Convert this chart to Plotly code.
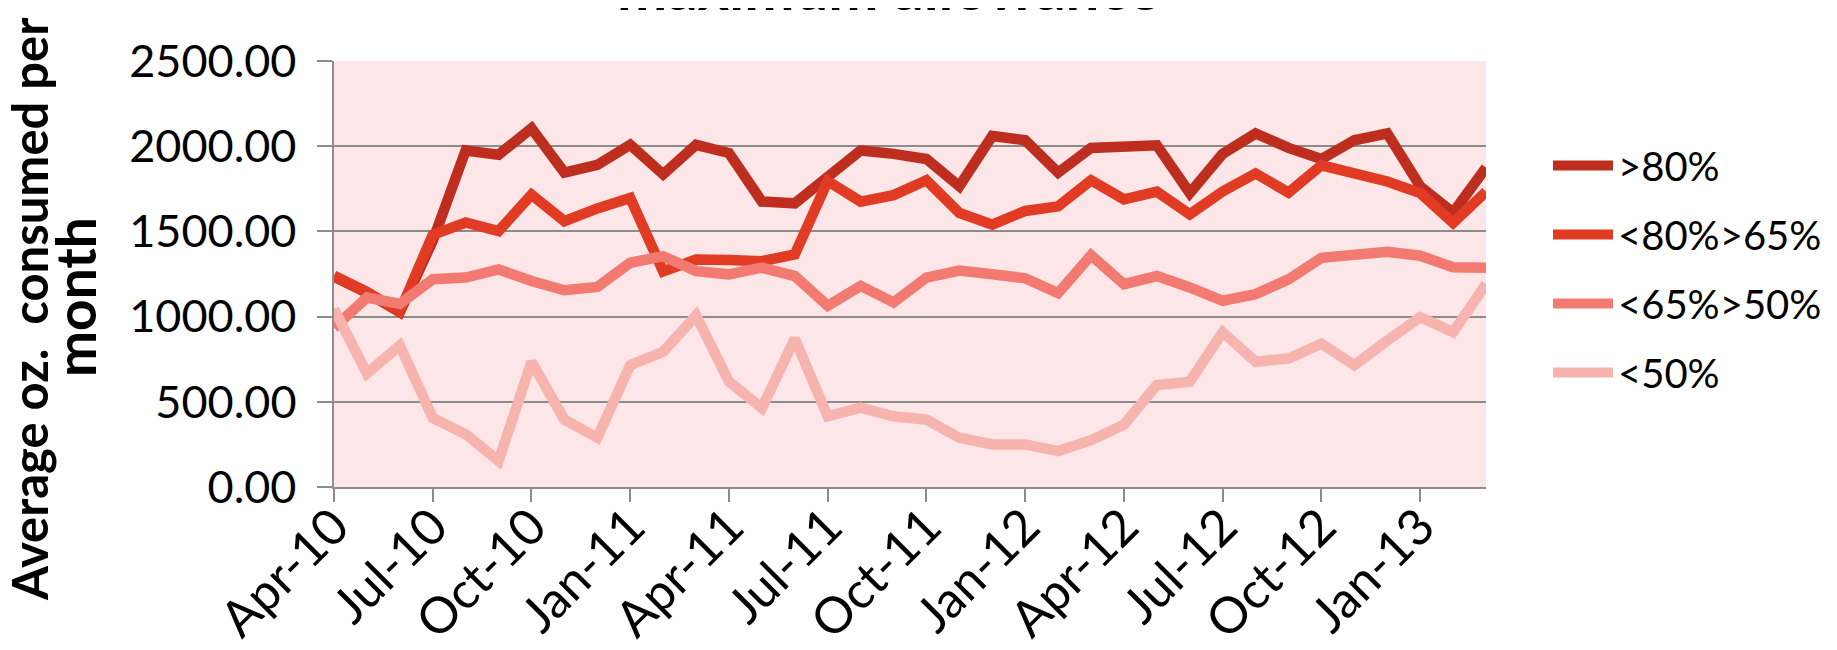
import plotly.graph_objects as go

months = ["Apr-10","May-10","Jun-10","Jul-10","Aug-10","Sep-10","Oct-10","Nov-10","Dec-10",
          "Jan-11","Feb-11","Mar-11","Apr-11","May-11","Jun-11","Jul-11","Aug-11","Sep-11",
          "Oct-11","Nov-11","Dec-11","Jan-12","Feb-12","Mar-12","Apr-12","May-12","Jun-12",
          "Jul-12","Aug-12","Sep-12","Oct-12","Nov-12","Dec-12","Jan-13","Feb-13","Mar-13"]
tick_labels = months[::3]

over80 = [1235, 1140, 1025, 1445, 1975, 1950, 2105, 1845, 1890, 2008, 1835, 2008,
          1960, 1675, 1665, 1830, 1975, 1955, 1925, 1765, 2060, 2035, 1845, 1990,
          2005, 2005, 1725, 1955, 2075, 1990, 1925, 2035, 2075, 1765, 1610, 1875]
b80_65 = [1240, 1145, 1030, 1480, 1552, 1502, 1715, 1560, 1635, 1696, 1265, 1335,
          1332, 1325, 1365, 1795, 1675, 1713, 1800, 1608, 1540, 1620, 1647, 1800,
          1688, 1733, 1600, 1735, 1840, 1728, 1888, 1842, 1793, 1725, 1550, 1733]
b65_50 = [935, 1112, 1074, 1219, 1229, 1277, 1209, 1155, 1174, 1316, 1355, 1267,
          1248, 1287, 1238, 1064, 1180, 1083, 1229, 1270, 1248, 1225, 1138, 1360,
          1190, 1238, 1171, 1093, 1132, 1219, 1345, 1364, 1380, 1357, 1290, 1287]
under50 = [1045, 667, 831, 405, 310, 153, 734, 395, 289, 715, 793, 1006,
           618, 463, 870, 415, 465, 415, 395, 289, 250, 250, 211, 275,
           366, 599, 618, 909, 735, 754, 841, 715, 860, 996, 909, 1190]

series = [(">80%", over80, "#BE2E1E"),
          ("<80%>65%", b80_65, "#E23B24"),
          ("<65%>50%", b65_50, "#F37A70"),
          ("<50%", under50, "#F7B4AF")]

title_line1 = "Average oz.  consumed per"
title_line2 = "month"
chart_title = "maximum allowance"

fig = go.Figure()
for i, (name, vals, col) in enumerate(series):
    fig.add_trace(go.Scatter(x=months, y=vals, name=name, mode="lines",
                             line=dict(color=col, width=10.5), legendgroup=str(i)))

grid = "#8C8C8C"
OFF = 8                      # page body margin
L, T, W, H = 334, 61, 1152, 426   # plot area in page pixels


def px(x):
    return (x - L) / W


def py(y):
    return (T + H - y) / H


fig.update_layout(
    width=1837, height=650,
    margin=dict(l=L - OFF, r=1837 - (L - OFF) - W, t=T - OFF, b=650 - (T - OFF) - H,
                autoexpand=False),
    paper_bgcolor="white", plot_bgcolor="#FCE6E7",
    font=dict(family="Lato", color="black"),
    showlegend=True,
    legend=dict(x=px(1548), y=py(133), xanchor="left", yanchor="top",
                font=dict(family="Lato", size=40), itemwidth=60,
                tracegroupgap=14, bgcolor="rgba(0,0,0,0)"),
    xaxis=dict(type="category", range=[0, 35], tickmode="array", tickvals=tick_labels,
               ticktext=tick_labels, tickangle=-45, ticks="outside", ticklen=13,
               tickwidth=2, tickcolor=grid, showline=True, linecolor=grid, linewidth=2,
               showgrid=False, automargin=False, ticklabelstandoff=-25,
               tickfont=dict(family="Lato", size=50)),
    yaxis=dict(range=[0, 2500], dtick=500, tickformat=".2f", ticks="outside",
               ticksuffix="\u00a0",
               ticklen=15, tickwidth=2, tickcolor=grid, showline=True, linecolor=grid,
               linewidth=2, gridcolor=grid, gridwidth=2, zeroline=False,
               automargin=False,
               tickfont=dict(family="Lato", size=45)),
    annotations=[
        dict(text="<b>" + chart_title + "</b>", xref="paper", yref="paper",
             x=px(888), y=py(25), xanchor="center", yanchor="bottom", showarrow=False,
             font=dict(family="Lato", size=60, color="black")),
        dict(text="<b>" + title_line1 + "</b>", xref="paper", yref="paper",
             x=px(29), y=py(309), xanchor="center", yanchor="middle", showarrow=False,
             textangle=-90, font=dict(family="Lato", size=49, color="black")),
        dict(text="<b>" + title_line2 + "</b>", xref="paper", yref="paper",
             x=px(75), y=py(297), xanchor="center", yanchor="middle", showarrow=False,
             textangle=-90, font=dict(family="Lato", size=55, color="black")),
    ],
)

fig.write_html("out.html")
